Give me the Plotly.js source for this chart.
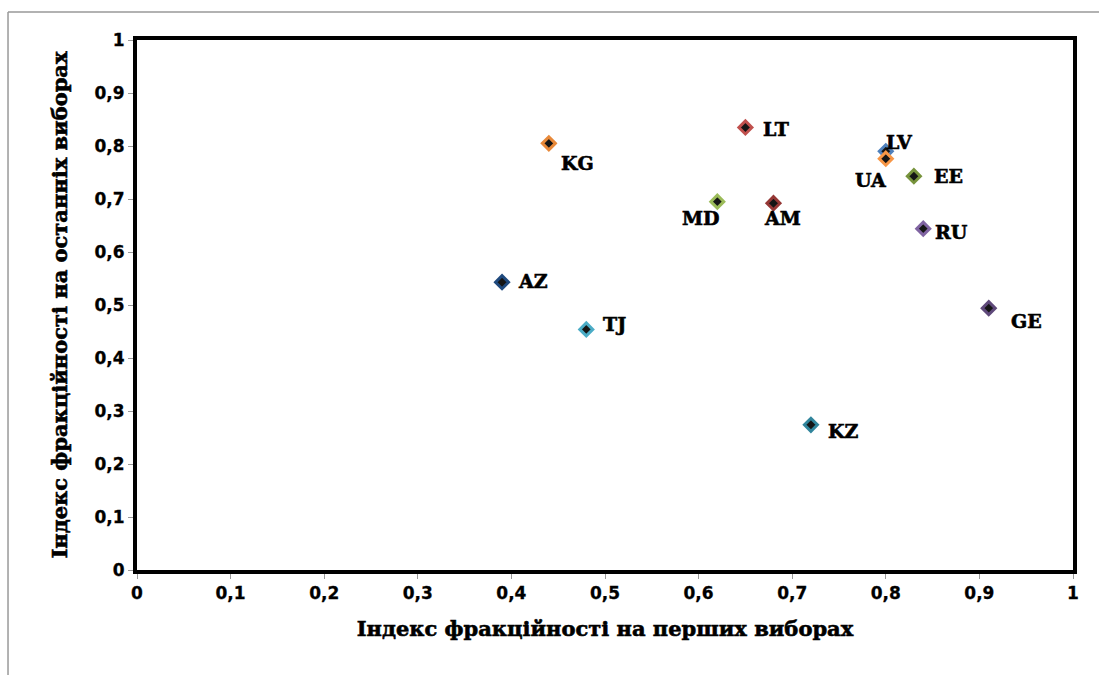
<!DOCTYPE html>
<html>
<head>
<meta charset="utf-8">
<script src="https://cdn.plot.ly/plotly-3.0.1.min.js"></script>
<style>
html,body{margin:0;padding:0;background:#fff;}
#chart{width:1099px;height:675px;}
#chart .annotation-text, #chart .xtitle, #chart .ytitle { stroke: #000; stroke-width: 0.6px; }
#chart .xtick text, #chart .ytick text { stroke: #000; stroke-width: 0.3px; }
</style>
</head>
<body>
<div id="chart"></div>
<script>
const countries = ['KG','LT','MD','AM','LV','UA','EE','RU','AZ','TJ','KZ','GE'];
const firstElection = [0.44,0.65,0.62,0.68,0.80,0.80,0.83,0.84,0.39,0.48,0.72,0.91];
const lastElection  = [0.805,0.835,0.695,0.692,0.79,0.776,0.743,0.644,0.543,0.454,0.274,0.494];
const markerColors = ['#e8893a','#c0504d','#9bbb59','#953735','#4f81bd','#f79646','#77933c','#8064a2','#1f497d','#4bacc6','#31859c','#5f497a'];
const xTickVals = [0,0.1,0.2,0.3,0.4,0.5,0.6,0.7,0.8,0.9,1];
const xTickText = ['0','0,1','0,2','0,3','0,4','0,5','0,6','0,7','0,8','0,9','1'];
const yTickVals = xTickVals;
const yTickText = xTickText;

// label offsets in pixels (style only)
const labelShift = {
  KG:[29,-20], LT:[31,-2], MD:[-16,-16], AM:[9,-15], LV:[14,9], UA:[-15,-21],
  EE:[35,0], RU:[28,-3], AZ:[31,1], TJ:[28,5], KZ:[33,-6], GE:[38,-13]
};

const trace = {
  x: firstElection,
  y: lastElection,
  mode: 'markers',
  type: 'scatter',
  marker: {symbol: 'diamond', size: 10, color: '#151515', line: {color: markerColors, width: 3}},
  hoverinfo: 'none',
  cliponaxis: false
};

const annotations = countries.map((c, i) => ({
  x: firstElection[i], y: lastElection[i], xref: 'x', yref: 'y',
  text: c, showarrow: false,
  xshift: labelShift[c][0], yshift: labelShift[c][1],
  font: {family: 'DejaVu Serif', size: 19, color: '#000', weight: 'bold'}
}));

const axisCommon = {
  range: [0,1],
  showgrid: false,
  zeroline: false,
  showline: true,
  linecolor: '#000',
  linewidth: 4,
  mirror: true,
  ticks: 'outside',
  ticklen: 5,
  tickcolor: '#999',
  tickwidth: 1,
  tickfont: {family: 'DejaVu Sans', size: 17, color: '#000', weight: 'bold'}
};

const layout = {
  width: 1099,
  height: 675,
  margin: {l: 137, r: 26, t: 40, b: 105},
  paper_bgcolor: '#fff',
  plot_bgcolor: '#fff',
  showlegend: false,
  annotations: annotations,
  xaxis: Object.assign({}, axisCommon, {
    tickvals: xTickVals, ticktext: xTickText,
    title: {text: 'Індекс фракційності на перших виборах', font: {family: 'DejaVu Serif', size: 21, color: '#000', weight: 'bold'}, standoff: 20}
  }),
  yaxis: Object.assign({}, axisCommon, {
    tickvals: yTickVals, ticktext: yTickText,
    title: {text: 'Індекс фракційності на останніх виборах', font: {family: 'DejaVu Serif', size: 21, color: '#000', weight: 'bold'}, standoff: 22}
  }),
  shapes: [
    {type: 'line', xref: 'paper', yref: 'paper', x0: -0.1378, x1: 1.2, y0: 1.0528, y1: 1.0528, line: {color: '#999', width: 1.5}},
    {type: 'line', xref: 'paper', yref: 'paper', x0: -0.1378, x1: -0.1378, y0: 1.0528, y1: -0.3, line: {color: '#999', width: 1.5}}
  ]
};

Plotly.newPlot('chart', [trace], layout, {displayModeBar: false, staticPlot: true});
</script>
</body>
</html>
